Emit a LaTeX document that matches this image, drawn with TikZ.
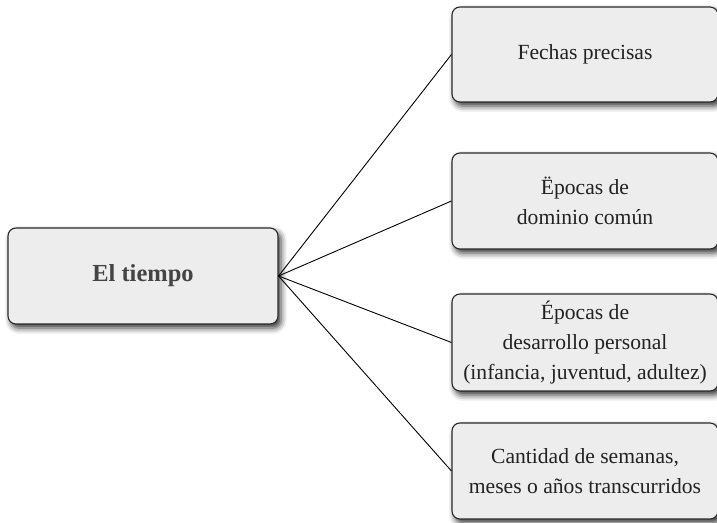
\documentclass[tikz,border=0pt]{standalone}
\usepackage{fontspec}
\setmainfont{Liberation Serif}
\usetikzlibrary{shadows.blur}
\definecolor{boxfill}{HTML}{EDEDED}
\definecolor{boxline}{HTML}{2A2A2A}
\definecolor{roottext}{HTML}{444444}
\definecolor{leaftext}{HTML}{222222}
\begin{document}
\begin{tikzpicture}[x=1pt,y=1pt,
  basebox/.style={draw=boxline, line width=1.1pt, fill=boxfill, rounded corners=8pt,
    inner sep=0pt, align=center,
    blur shadow={shadow xshift=3pt, shadow yshift=-4pt, shadow blur radius=6pt, shadow opacity=80}},
  rootbox/.style={basebox, minimum width=270pt, minimum height=96pt,
    font=\fontsize{24.5}{30}\selectfont\bfseries, text=roottext},
  leafbox/.style={basebox, minimum width=266pt, minimum height=96pt,
    font=\fontsize{21.6}{30}\selectfont, text=leaftext},
  link/.style={draw=black, line width=0.9pt}]
\useasboundingbox (0,0) rectangle (717,522);
\node[rootbox] (root) at (143,246) {El tiempo};
\node[leafbox, minimum height=95pt] (b1) at (585,467.5) {Fechas precisas};
\node[leafbox] (b2) at (585,321) {Ëpocas de\\dominio común};
\node[leafbox, minimum height=97pt] (b3) at (585,179.5) {Épocas de\\desarrollo personal\\(infancia, juventud, adultez)};
\node[leafbox] (b4) at (585,51) {Cantidad de semanas,\\meses o años transcurridos};
\foreach \b in {b1,b2,b3,b4} \draw[link] (root.east) -- (\b.west);
\end{tikzpicture}
\end{document}
